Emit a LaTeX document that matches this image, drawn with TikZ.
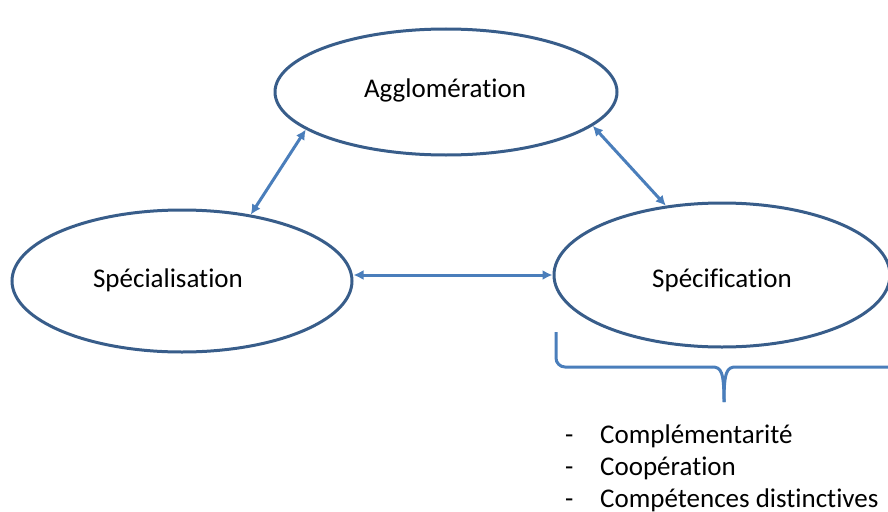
\documentclass[tikz,border=0pt]{standalone}
\usepackage{fontspec}
\setmainfont[Ligatures={NoCommon}]{Carlito}
\usetikzlibrary{shapes.geometric,arrows.meta}
\definecolor{ellblue}{HTML}{385D8A}
\definecolor{arrblue}{HTML}{4A7EBB}
\tikzset{
  bubble/.style={ellipse, draw=ellblue, line width=3pt, inner sep=0pt},
  link/.style={draw=arrblue, line width=3pt, {Latex[length=10pt,width=10pt]}-{Latex[length=10pt,width=10pt]}},
  txt/.style={font=\fontsize{27}{32}\selectfont, text=black, inner sep=0pt},
  bracestyle/.style={draw=arrblue, line width=3pt}
}
\begin{document}
\begin{tikzpicture}[x=1pt,y=-1pt]
\useasboundingbox (0,0) rectangle (888,511);
\node[bubble, minimum width=342pt, minimum height=126pt] (agg) at (446,92) {};
\node[bubble, minimum width=340pt, minimum height=142pt] (spl) at (182,281) {};
\node[bubble, minimum width=336pt, minimum height=144pt] (spc) at (722,275) {};
\node[txt, anchor=base] (aggt) at (445,97) {Agglomération};
\node[txt, anchor=base] (splt) at (168,287) {Spécialisation};
\node[txt, anchor=base] (spct) at (722,287) {Spécification};
\path[link] (agg.195) -- (spl.44);
\path[link] (agg.347) -- (spc.129);
\path[link] (spl.east |- spc.west) -- (spc.west);
\coordinate (bl) at (556,332);
\coordinate (tip) at (724,402);
\coordinate (br) at (900,367);
\draw[bracestyle, rounded corners=9pt] (bl) -- (556,367) -- (712,367);
\draw[bracestyle] (712,367) .. controls (721,367) and (724,371) .. (tip);
\draw[bracestyle] (tip) .. controls (724,371) and (727,367) .. (736,367) -- (br);
\node[txt, anchor=base west] (d1) at (565,443) {-};
\node[txt, anchor=base west] (d2) at (565,475) {-};
\node[txt, anchor=base west] (d3) at (565,507) {-};
\node[txt, anchor=base west] (i1) at (600,443) {Complémentarité};
\node[txt, anchor=base west] (i2) at (600,475) {Coopération};
\node[txt, anchor=base west] (i3) at (600,507) {Compétences distinctives};
\end{tikzpicture}
\end{document}
